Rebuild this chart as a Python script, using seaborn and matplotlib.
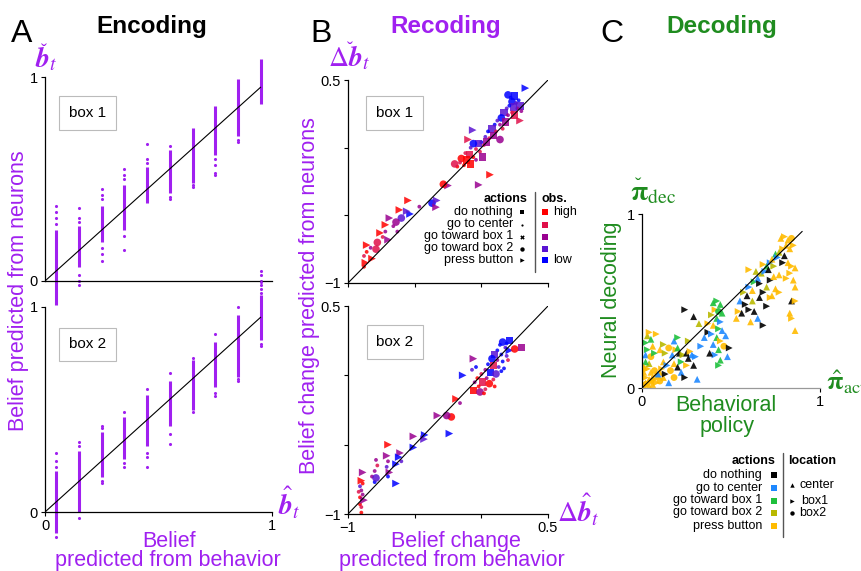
import numpy as np
import pandas as pd
import matplotlib
matplotlib.use('Agg')
import matplotlib.pyplot as plt
import seaborn as sns

# ===== 数据 =====
# A: Encoding, 10 个信念区间
enc_x = [0.05, 0.15, 0.25, 0.35, 0.45, 0.55, 0.65, 0.75, 0.85, 0.95]
# box 1: 每列的密集区间 + 零散点
enc1_lo = [-0.12, 0.07, 0.19, 0.25, 0.38, 0.43, 0.48, 0.62, 0.71, 0.87]
enc1_hi = [0.25, 0.27, 0.37, 0.47, 0.56, 0.64, 0.75, 0.86, 0.99, 1.09]
enc1_out = [[0.37, 0.34, 0.31, 0.28, -0.15, -0.18, -0.22],
            [0.36, 0.31, 0.29, 0.03, 0.0, -0.02],
            [0.45, 0.42, 0.40, 0.16, 0.13, 0.10],
            [0.55, 0.52, 0.50, 0.22, 0.15],
            [0.67, 0.60, 0.58],
            [0.66, 0.41, 0.40],
            [0.46, 0.47],
            [0.60, 0.57, 0.53, 0.52],
            [0.69, 0.68],
            [0.05, 0.03, 0.0, -0.02, -0.04, -0.06]]
# box 2
enc2_lo = [-0.10, 0.0, 0.17, 0.26, 0.32, 0.42, 0.50, 0.61, 0.66, 0.84]
enc2_hi = [0.20, 0.30, 0.39, 0.465, 0.57, 0.64, 0.74, 0.83, 0.96, 1.06]
enc2_out = [[0.29, 0.25, 0.22, -0.12],
            [0.34, 0.32, -0.03],
            [0.42, 0.41, 0.14, 0.15],
            [0.49, 0.22, 0.24],
            [0.60, 0.22, 0.27, 0.29],
            [0.676, 0.38, 0.33],
            [0.75, 0.49],
            [0.87, 0.566, 0.58],
            [1.0, 0.64, 0.65],
            [1.12, 0.81, 0.82]]

# B: Recoding
actions = ['do nothing', 'go to center', 'go toward box 1', 'go toward box 2', 'press button']
obs_levels = ['high', 'mid-high', 'mid', 'mid-low', 'low']
obs_colors = ['#ff0000', '#e0104a', '#990090', '#5a14d2', '#0000ff']
act_markers = ['s', '.', 'X', 'o', '>']

b1_x = [0.33, 0.20, 0.22, 0.25, 0.23, 0.26, 0.28, 0.29, 0.30, 0.27,
        0.24, 0.21, 0.19, 0.17, 0.15, 0.20, 0.23, 0.25, 0.29, 0.12,
        0.10, 0.14, 0.18, 0.08, 0.05, 0.11, 0.16, 0.03, 0.06, 0.09,
        0.14, 0.00, 0.02, -0.02, 0.04, -0.04, -0.06, -0.08, -0.01, -0.09,
        -0.06, -0.12, -0.11, -0.15, -0.16, -0.13, -0.18, -0.20, -0.04, -0.08,
        0.01, 0.065, -0.02, -0.25, -0.285, -0.065, -0.10, -0.37, -0.335, -0.34,
        -0.465, -0.55, -0.535, -0.56, -0.615, -0.60, -0.64, -0.66, -0.69, -0.63,
        -0.72, -0.72, -0.74, -0.70, -0.76, -0.78, -0.86, -0.86, -0.88, -0.87,
        -0.88, -0.82, -0.83, -0.79]
b1_y = [0.44, 0.39, 0.37, 0.38, 0.34, 0.33, 0.35, 0.31, 0.27, 0.29,
        0.30, 0.31, 0.29, 0.26, 0.22, 0.24, 0.26, 0.24, 0.20, 0.20,
        0.17, 0.17, 0.19, 0.14, 0.12, 0.12, 0.14, 0.08, 0.07, 0.09,
        0.06, 0.04, 0.02, 0.03, 0.04, -0.01, 0.03, 0.00, -0.03, -0.05,
        -0.07, -0.04, -0.09, -0.08, -0.11, -0.13, -0.14, -0.12, -0.09, -0.12,
        -0.07, -0.20, -0.275, -0.28, -0.27, 0.13, 0.06, -0.41, -0.39, -0.44,
        -0.436, -0.39, -0.49, -0.47, -0.46, -0.52, -0.55, -0.58, -0.52, -0.62,
        -0.57, -0.62, -0.66, -0.68, -0.63, -0.70, -0.72, -0.77, -0.80, -0.85,
        -0.88, -0.82, -0.74, -0.75]
b1_obs = [4, 4, 4, 4, 4, 3, 4, 3, 2, 2,
          3, 4, 3, 3, 4, 2, 1, 1, 1, 3,
          4, 2, 2, 3, 4, 1, 1, 3, 1, 2,
          2, 4, 1, 3, 2, 1, 4, 3, 1, 1,
          0, 1, 0, 0, 1, 0, 0, 1, 2, 0,
          2, 0, 2, 2, 0, 3, 1, 4, 3, 2,
          2, 0, 4, 3, 0, 3, 2, 2, 2, 2,
          0, 2, 1, 2, 0, 1, 0, 0, 1, 0,
          0, 0, 2, 1]
b1_act = [4, 3, 1, 0, 3, 1, 1, 0, 1, 1,
          0, 1, 1, 0, 3, 1, 1, 0, 4, 1,
          1, 1, 0, 0, 1, 1, 1, 1, 1, 0,
          3, 1, 1, 0, 0, 1, 3, 1, 1, 0,
          1, 1, 0, 3, 1, 1, 1, 3, 1, 0,
          0, 4, 4, 4, 3, 4, 4, 3, 4, 4,
          1, 4, 4, 4, 4, 3, 3, 1, 4, 1,
          4, 1, 1, 4, 4, 3, 4, 1, 1, 4,
          1, 4, 1, 3]

b2_x = [0.21, 0.19, 0.16, 0.14, 0.18, 0.21, 0.25, 0.30, 0.12, 0.10,
        0.15, 0.19, 0.08, 0.12, 0.16, 0.20, 0.05, 0.09, 0.13, 0.17,
        0.03, 0.07, 0.11, 0.15, 0.00, 0.04, 0.09, -0.03, 0.01, 0.06,
        -0.05, -0.02, 0.03, -0.06, -0.01, 0.02, -0.04, -0.07, 0.10, -0.14,
        -0.06, -0.19, -0.16, -0.225, -0.26, -0.33, -0.24, -0.425, -0.43, -0.51,
        -0.51, -0.61, -0.62, -0.64, -0.60, -0.70, -0.71, -0.70, -0.69, -0.70,
        -0.64, -0.71, -0.79, -0.80, -0.80, -0.82, -0.78, -0.79, -0.89, -0.89,
        -0.90, -0.91, -0.91, -0.90, -0.89, -0.91, -0.90, -0.88, -0.90, -0.92]
b2_y = [0.25, 0.23, 0.24, 0.22, 0.20, 0.18, 0.19, 0.20, 0.18, 0.15,
        0.15, 0.14, 0.12, 0.11, 0.10, 0.11, 0.08, 0.07, 0.06, 0.05,
        0.04, 0.02, 0.01, 0.03, 0.01, -0.02, -0.03, -0.02, -0.05, -0.06,
        -0.05, -0.08, -0.10, -0.11, -0.12, -0.13, 0.06, 0.04, -0.08, 0.00,
        0.12, -0.17, -0.20, -0.30, -0.29, -0.29, -0.42, -0.43, -0.46, -0.52,
        -0.44, -0.56, -0.59, -0.64, -0.62, -0.50, -0.58, -0.62, -0.70, -0.73,
        -0.78, -0.66, -0.61, -0.69, -0.77, -0.73, -0.65, -0.74, -0.70, -0.78,
        -0.83, -0.88, -0.93, -0.99, -0.86, -0.80, -0.95, -0.90, -0.76, -0.84]
b2_obs = [4, 4, 4, 4, 3, 4, 0, 2, 4, 3,
          4, 3, 4, 2, 4, 1, 4, 1, 3, 4,
          2, 4, 3, 4, 1, 2, 1, 0, 1, 0,
          2, 0, 1, 0, 2, 0, 4, 3, 0, 4,
          2, 0, 2, 0, 2, 2, 4, 4, 3, 4,
          2, 2, 4, 4, 3, 0, 2, 2, 2, 4,
          4, 3, 2, 2, 4, 2, 1, 3, 2, 0,
          2, 0, 0, 0, 2, 3, 1, 2, 0, 1]
b2_act = [0, 1, 3, 1, 1, 4, 3, 0, 1, 0,
          1, 1, 3, 1, 1, 1, 1, 0, 1, 1,
          1, 0, 3, 1, 1, 1, 1, 1, 0, 3,
          1, 1, 1, 0, 3, 1, 1, 1, 1, 4,
          4, 4, 1, 3, 3, 4, 4, 4, 4, 4,
          4, 4, 4, 4, 1, 4, 4, 1, 4, 1,
          4, 1, 1, 1, 1, 1, 1, 3, 4, 1,
          1, 1, 1, 1, 1, 1, 1, 4, 4, 1]

# C: Decoding
act_colors = ['#000000', '#1e88ff', '#1ec03c', '#b8b800', '#ffbb00']
locations = ['center', 'box1', 'box2']
loc_markers = ['^', '>', 'o']

c_x = [0.01, 0.02, 0.03, 0.04, 0.05, 0.06, 0.07, 0.08, 0.09, 0.02,
       0.01, 0.03, 0.05, 0.07, 0.10, 0.11, 0.04, 0.02, 0.01, 0.02,
       0.04, 0.06, 0.08, 0.12, 0.10,
       0.03, 0.04, 0.02, 0.05, 0.03, 0.06, 0.02, 0.05, 0.07, 0.08,
       0.10, 0.13, 0.15, 0.17, 0.19, 0.21, 0.23, 0.25, 0.27, 0.28,
       0.30, 0.26, 0.12, 0.14, 0.18, 0.20, 0.22, 0.16, 0.12, 0.18,
       0.20, 0.09, 0.13, 0.18, 0.22, 0.25, 0.29, 0.24, 0.15, 0.20,
       0.24, 0.29, 0.32, 0.37, 0.35, 0.33, 0.31, 0.26,
       0.40, 0.42, 0.44, 0.41, 0.43, 0.45, 0.39, 0.42, 0.44, 0.40,
       0.43, 0.45, 0.39, 0.42, 0.44, 0.40, 0.43, 0.41, 0.44, 0.43,
       0.38, 0.46, 0.47, 0.37, 0.48, 0.49,
       0.55, 0.57, 0.59, 0.60, 0.62, 0.63, 0.65, 0.66, 0.67, 0.69,
       0.70, 0.71, 0.72, 0.73, 0.74, 0.75, 0.76, 0.68, 0.64, 0.58,
       0.54, 0.53, 0.56, 0.60, 0.62, 0.66, 0.68, 0.70, 0.72, 0.74,
       0.63, 0.70, 0.65, 0.68, 0.61, 0.72, 0.60,
       0.78, 0.80, 0.82, 0.84, 0.81, 0.79, 0.83, 0.85, 0.77, 0.80,
       0.82, 0.84, 0.86, 0.83, 0.85, 0.86, 0.81, 0.84, 0.86, 0.83,
       0.84, 0.86, 0.79, 0.77, 0.75, 0.77, 0.73]
c_y = [0.01, 0.03, 0.02, 0.05, 0.04, 0.06, 0.05, 0.08, 0.07, 0.06,
       0.09, 0.11, 0.09, 0.10, 0.09, 0.11, 0.14, 0.15, 0.12, 0.02,
       0.01, 0.02, 0.03, 0.06, 0.04,
       0.30, 0.32, 0.26, 0.28, 0.22, 0.24, 0.19, 0.18, 0.20, 0.31,
       0.22, 0.20, 0.23, 0.19, 0.22, 0.20, 0.19, 0.20, 0.21, 0.19,
       0.18, 0.17, 0.15, 0.13, 0.14, 0.12, 0.15, 0.10, 0.25, 0.27,
       0.29, 0.08, 0.08, 0.06, 0.09, 0.13, 0.13, 0.06, 0.03, 0.23,
       0.45, 0.41, 0.37, 0.32, 0.29, 0.24, 0.05, 0.27,
       0.49, 0.50, 0.48, 0.45, 0.44, 0.43, 0.42, 0.40, 0.38, 0.36,
       0.34, 0.33, 0.31, 0.29, 0.27, 0.25, 0.22, 0.19, 0.16, 0.13,
       0.20, 0.24, 0.30, 0.37, 0.18, 0.23,
       0.50, 0.55, 0.53, 0.58, 0.56, 0.61, 0.63, 0.60, 0.66, 0.67,
       0.70, 0.68, 0.72, 0.74, 0.70, 0.77, 0.75, 0.71, 0.67, 0.48,
       0.44, 0.40, 0.43, 0.45, 0.50, 0.52, 0.55, 0.58, 0.62, 0.64,
       0.44, 0.47, 0.40, 0.36, 0.38, 0.52, 0.68,
       0.86, 0.87, 0.85, 0.86, 0.82, 0.80, 0.80, 0.82, 0.78, 0.76,
       0.72, 0.70, 0.69, 0.66, 0.62, 0.58, 0.63, 0.50, 0.50, 0.43,
       0.40, 0.33, 0.72, 0.65, 0.57, 0.55, 0.53]
c_act = [4, 4, 4, 4, 4, 4, 4, 4, 4, 4,
         4, 4, 4, 4, 4, 4, 3, 2, 4, 4,
         4, 4, 4, 4, 4,
         3, 4, 2, 2, 2, 4, 1, 4, 2, 4,
         4, 3, 4, 1, 4, 0, 3, 0, 4, 1,
         1, 0, 4, 1, 4, 0, 2, 4, 3, 1,
         2, 1, 0, 4, 1, 4, 0, 0, 1, 2,
         0, 0, 3, 0, 1, 1, 1, 3,
         2, 2, 2, 4, 2, 2, 3, 2, 1, 4,
         2, 1, 1, 2, 4, 1, 2, 1, 2, 2,
         0, 4, 1, 4, 1, 0,
         1, 3, 0, 1, 4, 2, 1, 0, 3, 1,
         2, 0, 1, 4, 3, 2, 1, 4, 3, 0,
         4, 4, 0, 0, 3, 0, 0, 3, 0, 4,
         0, 0, 1, 0, 4, 4, 4,
         4, 4, 4, 4, 4, 4, 4, 4, 3, 0,
         4, 4, 4, 4, 4, 4, 4, 0, 4, 4,
         4, 4, 0, 4, 4, 4, 4]
c_loc = [0, 0, 1, 0, 2, 0, 1, 0, 0, 1,
         0, 1, 0, 2, 0, 1, 0, 0, 0, 2,
         0, 0, 1, 0, 2,
         0, 1, 1, 0, 1, 0, 0, 2, 1, 1,
         0, 1, 2, 0, 1, 0, 1, 0, 1, 0,
         1, 0, 0, 1, 0, 0, 1, 2, 1, 0,
         1, 0, 1, 2, 0, 1, 0, 1, 0, 0,
         1, 0, 0, 1, 0, 1, 0, 1,
         0, 1, 0, 1, 2, 0, 1, 0, 1, 0,
         1, 0, 1, 0, 1, 0, 0, 1, 0, 1,
         0, 2, 0, 1, 0, 1,
         0, 1, 0, 1, 0, 1, 0, 1, 0, 1,
         0, 0, 1, 0, 1, 0, 1, 1, 0, 1,
         1, 0, 0, 1, 0, 0, 1, 0, 1, 0,
         0, 1, 0, 1, 0, 1, 1,
         0, 1, 0, 2, 0, 1, 0, 1, 0, 0,
         0, 1, 0, 1, 0, 0, 1, 0, 1, 0,
         1, 0, 1, 0, 0, 1, 0]

PURPLE = '#a020f0'
GREEN = '#1f8c1f'

# ===== 样式 =====
sns.set_style('ticks')
plt.rcParams['font.family'] = ['Liberation Sans', 'DejaVu Sans']
plt.rcParams['mathtext.fontset'] = 'stix'
for key in ['text.color', 'axes.labelcolor', 'xtick.color', 'ytick.color']:
    plt.rcParams[key] = 'black'

W, H = 861, 571
fig = plt.figure(figsize=(W / 100, H / 100), dpi=100)


def px_axes(l, t, r, b):
    # 以像素位置放置坐标轴
    return fig.add_axes([l / W, 1 - b / H, (r - l) / W, (b - t) / H])


def style_axes(ax, lim, ticks, xlabels, ylabels, xcolor='black'):
    ax.set_xlim(lim)
    ax.set_ylim(lim)
    sns.despine(ax=ax)
    ax.spines['left'].set_color('black')
    ax.spines['bottom'].set_color(xcolor)
    for s in ['left', 'bottom']:
        ax.spines[s].set_linewidth(0.9)
    ax.set_yticks(ticks)
    ax.set_yticklabels(ylabels)
    if xlabels is None:
        ax.set_xticks([])
    else:
        ax.set_xticks(ticks)
        ax.set_xticklabels(xlabels)
    ax.tick_params(length=3, width=0.8, labelsize=10.5, pad=2)
    ax.set_xlabel('')
    ax.set_ylabel('')


# ===== A: Encoding =====
def draw_encoding(ax, lo, hi, outs, show_x):
    ax.vlines(enc_x, lo, hi, color=PURPLE, lw=2.2, clip_on=False, zorder=2)
    df = pd.DataFrame({'x': np.repeat(enc_x, [len(o) for o in outs]),
                       'y': np.concatenate(outs)})
    sns.scatterplot(data=df, x='x', y='y', color=PURPLE, s=5, linewidth=0,
                    ax=ax, clip_on=False, zorder=2)
    ax.plot([0, 0.95], [0, 0.95], color='black', lw=0.8, zorder=3)
    style_axes(ax, (0, 1), [0, 1], ['0', '1'] if show_x else None, ['0', '1'])


axA1 = px_axes(45, 77, 272, 281)
draw_encoding(axA1, enc1_lo, enc1_hi, enc1_out, False)
axA2 = px_axes(45, 307, 272, 512)
draw_encoding(axA2, enc2_lo, enc2_hi, enc2_out, True)


# ===== B: Recoding =====
def draw_recoding(ax, xs, ys, obs, act, show_x):
    df = pd.DataFrame({'x': xs, 'y': ys,
                       'obs': [obs_levels[i] for i in obs],
                       'act': [actions[i] for i in act]})
    sns.scatterplot(data=df, x='x', y='y', hue='obs', style='act',
                    palette=dict(zip(obs_levels, obs_colors)),
                    markers=dict(zip(actions, act_markers)),
                    s=30, linewidth=0, alpha=0.85, legend=False, ax=ax)
    ax.plot([-1, 0.5], [-1, 0.5], color='black', lw=0.8, zorder=3)
    style_axes(ax, (-1, 0.5), [-1, -0.5, 0, 0.5],
               ['\u22121', '', '', '0.5'] if show_x else ['', '', '', ''],
               ['\u22121', '', '', '0.5'])


axB1 = px_axes(348, 80, 548, 283)
draw_recoding(axB1, b1_x, b1_y, b1_obs, b1_act, False)
axB2 = px_axes(348, 306, 548, 514)
draw_recoding(axB2, b2_x, b2_y, b2_obs, b2_act, True)

# ===== C: Decoding =====
axC = px_axes(642, 214, 820, 388)
dfc = pd.DataFrame({'x': c_x, 'y': c_y,
                    'act': [actions[i] for i in c_act],
                    'loc': [locations[i] for i in c_loc]})
sns.scatterplot(data=dfc, x='x', y='y', hue='act', style='loc',
                palette=dict(zip(actions, act_colors)),
                markers=dict(zip(locations, loc_markers)),
                s=24, linewidth=0, alpha=0.9, legend=False, ax=axC)
axC.plot([0, 0.9], [0, 0.9], color='black', lw=0.8, zorder=3)
style_axes(axC, (0, 1), [0, 1], ['0', '1'], ['0', '1'], xcolor='#999999')

# ===== 文字与图例 (像素坐标覆盖层) =====
ov = fig.add_axes([0, 0, 1, 1])
ov.set_xlim(0, W)
ov.set_ylim(H, 0)
ov.axis('off')

for letter, x in [('A', 22), ('B', 321), ('C', 612)]:
    ov.text(x, 42, letter, fontsize=23, ha='center', va='baseline')
ov.text(152, 33, 'Encoding', fontsize=17.5, fontweight='bold', ha='center', va='baseline')
ov.text(446, 33, 'Recoding', fontsize=17.5, fontweight='bold', color=PURPLE,
        ha='center', va='baseline')
ov.text(722, 33, 'Decoding', fontsize=17.5, fontweight='bold', color=GREEN,
        ha='center', va='baseline')

box_kw = dict(boxstyle='square,pad=0.65', fc='white', ec='#bbbbbb', lw=0.8)
for txt, x, y in [('box 1', 87.5, 113), ('box 2', 87.5, 344.5),
                  ('box 1', 394.5, 113), ('box 2', 395, 342)]:
    ov.text(x, y, txt, fontsize=11, ha='center', va='center', bbox=box_kw)

# 轴标签
ov.text(19, 291, 'Belief predicted from neurons', fontsize=15.5, color=PURPLE,
        rotation=90, ha='center', va='center')
ov.text(169, 547, 'Belief', fontsize=15.5, color=PURPLE, ha='center', va='baseline')
ov.text(168, 566, 'predicted from behavior', fontsize=15.5, color=PURPLE,
        ha='center', va='baseline')
ov.text(309, 296, 'Belief change predicted from neurons', fontsize=15.5, color=PURPLE,
        rotation=90, ha='center', va='center')
ov.text(456, 547, 'Belief change', fontsize=15.5, color=PURPLE, ha='center', va='baseline')
ov.text(452, 566, 'predicted from behavior', fontsize=15.5, color=PURPLE,
        ha='center', va='baseline')
ov.text(612, 300, 'Neural decoding', fontsize=15.5, color=GREEN,
        rotation=90, ha='center', va='center')
ov.text(726, 411, 'Behavioral', fontsize=15.5, color=GREEN, ha='center', va='baseline')
ov.text(727, 432, 'policy', fontsize=15.5, color=GREEN, ha='center', va='baseline')

# 数学符号 (caron 单独放置, mathtext 的 \check 位置偏移)
ov.text(35, 67, r'$\mathbfit{b}_t$', fontsize=20, color=PURPLE, ha='left', va='baseline')
ov.text(44, 52, '\u02c7', fontsize=13, color=PURPLE, ha='center', va='center')
ov.text(278, 515, r'$\hat{\mathbfit{b}}_t$', fontsize=20, color=PURPLE,
        ha='left', va='baseline')
ov.text(328, 66, r'$\Delta\mathbfit{b}_t$', fontsize=20, color=PURPLE,
        ha='left', va='baseline')
ov.text(350, 51, '\u02c7', fontsize=13, color=PURPLE, ha='center', va='center')
ov.text(557, 522, r'$\Delta\hat{\mathbfit{b}}_t$', fontsize=20, color=PURPLE,
        ha='left', va='baseline')
ov.text(630, 200, r'$\mathbf{\pi}_{\mathrm{dec}}$', fontsize=20, color=GREEN,
        ha='left', va='baseline')
ov.text(638, 186, '\u02c7', fontsize=14, color=GREEN, ha='center', va='center')
ov.text(826, 390, r'$\hat{\mathbf{\pi}}_{\mathrm{act}}$', fontsize=19, color=GREEN,
        ha='left', va='baseline')

# B 图例
leg_y = [212, 224.5, 236.5, 248.5, 260]
ov.text(527, 199, 'actions', fontsize=9, fontweight='bold', ha='right', va='center')
ov.text(541, 199, 'obs.', fontsize=9, fontweight='bold', ha='left', va='center')
ov.plot([535, 535], [192, 272], color='#555555', lw=1)
for i in range(5):
    ov.text(513, leg_y[i], actions[i], fontsize=9, ha='right', va='center')
    ov.scatter(522, leg_y[i], marker=act_markers[i], s=10, color='black', linewidths=0)
    ov.scatter(545, leg_y[i], marker='s', s=22, color=obs_colors[i], linewidths=0)
ov.text(553, leg_y[0], 'high', fontsize=9, ha='left', va='center')
ov.text(553, leg_y[4], 'low', fontsize=9, ha='left', va='center')

# C 图例
legc_y = [475, 488, 500.5, 512.5, 525.5]
ov.text(776, 461, 'actions', fontsize=9, fontweight='bold', ha='right', va='center')
ov.text(788, 461, 'location', fontsize=9, fontweight='bold', ha='left', va='center')
ov.plot([783, 783], [453, 537], color='#555555', lw=1)
for i in range(5):
    ov.text(762, legc_y[i], actions[i], fontsize=9, ha='right', va='center')
    ov.scatter(774, legc_y[i], marker='s', s=22, color=act_colors[i], linewidths=0)
for i, (yy, xt) in enumerate(zip([485, 501, 513], [799, 801, 799])):
    ov.scatter(792, yy, marker=loc_markers[i], s=10, color='black', linewidths=0)
    ov.text(xt, yy, locations[i], fontsize=9, ha='left', va='center')

fig.savefig('out.png', dpi=100)
